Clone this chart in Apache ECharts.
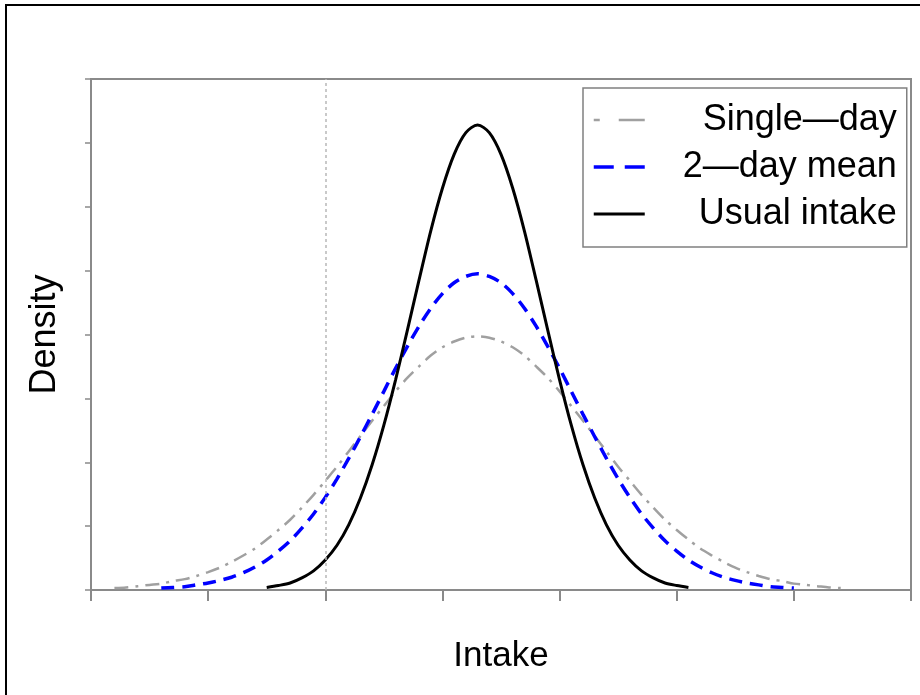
<!DOCTYPE html>
<html>
<head>
<meta charset="utf-8">
<script src="https://cdn.jsdelivr.net/npm/echarts@6/dist/echarts.min.js"></script>
<style>html,body{margin:0;padding:0;background:#fff}#c{width:920px;height:695px}</style>
</head>
<body>
<div id="c"></div>
<script>
const seriesNames = ['Single\u2014day', '2\u2014day mean', 'Usual intake'];
const cutoffIntake = 2.0;
const intake = [0.2,0.3,0.4,0.5,0.6,0.7,0.8,0.9,1.0,1.1,1.2,1.3,1.4,1.5,1.6,1.7,1.8,1.9,2.0,2.1,2.2,2.3,2.4,2.5,2.6,2.7,2.8,2.9,3.0,3.1,3.2,3.3,3.4,3.5,3.6,3.7,3.8,3.9,4.0,4.1,4.2,4.3,4.4,4.5,4.6,4.7,4.8,4.9,5.0,5.1,5.2,5.3,5.4,5.5,5.6,5.7,5.8,5.9,6.0,6.1,6.2,6.3,6.4];
const singleDay = [0.03,0.04,0.06,0.08,0.10,0.14,0.17,0.22,0.28,0.35,0.44,0.54,0.65,0.79,0.94,1.10,1.29,1.49,1.71,1.93,2.17,2.41,2.65,2.88,3.11,3.32,3.50,3.67,3.80,3.89,3.95,3.97,3.95,3.89,3.80,3.67,3.50,3.32,3.11,2.88,2.65,2.41,2.17,1.93,1.71,1.49,1.29,1.10,0.94,0.79,0.65,0.54,0.44,0.35,0.28,0.22,0.17,0.14,0.10,0.08,0.06,0.04,0.03];
const twoDayMean = [null,null,null,null,0.03,0.04,0.05,0.08,0.11,0.15,0.20,0.27,0.36,0.47,0.61,0.77,0.97,1.19,1.45,1.74,2.06,2.40,2.75,3.11,3.47,3.81,4.13,4.41,4.64,4.81,4.91,4.95,4.91,4.81,4.64,4.41,4.13,3.81,3.47,3.11,2.75,2.40,2.06,1.74,1.45,1.19,0.97,0.77,0.61,0.47,0.36,0.27,0.20,0.15,0.11,0.08,0.05,0.04,0.03,null,null,null,null];
const usualIntake = [null,null,null,null,null,null,null,null,null,null,null,null,null,0.04,0.07,0.11,0.19,0.30,0.47,0.70,1.02,1.44,1.96,2.58,3.29,4.06,4.85,5.62,6.29,6.82,7.16,7.28,7.16,6.82,6.29,5.62,4.85,4.06,3.29,2.58,1.96,1.44,1.02,0.70,0.47,0.30,0.19,0.11,0.07,0.04,null,null,null,null,null,null,null,null,null,null,null,null,null];

const FONT = 'Liberation Sans, Arial, sans-serif';
const axisGrey = '#8a8a8a';
const pair = arr => intake.map((x, i) => [x, arr[i]]);

const chart = echarts.init(document.getElementById('c'), null, {renderer: 'canvas'});
chart.setOption({
  animation: false,
  backgroundColor: '#fff',
  graphic: [{
    type: 'rect', silent: true, z: 100,
    shape: {x: 6, y: 5, width: 1200, height: 1200},
    style: {fill: 'none', stroke: '#000', lineWidth: 2}
  }],
  grid: {left: 91, right: 9, top: 79, bottom: 105, show: true, borderColor: axisGrey, borderWidth: 2, backgroundColor: 'transparent'},
  xAxis: {
    type: 'value', min: 0, max: 7, interval: 1,
    name: 'Intake', nameLocation: 'middle', nameGap: 49,
    nameTextStyle: {fontFamily: FONT, fontSize: 35, color: '#000'},
    axisLine: {show: true, lineStyle: {color: axisGrey, width: 2}},
    axisTick: {show: true, length: 11, lineStyle: {color: axisGrey, width: 2}},
    axisLabel: {show: false},
    splitLine: {show: false}
  },
  yAxis: {
    type: 'value', min: 0, max: 8, interval: 1,
    name: 'Density', nameLocation: 'middle', nameGap: 28,
    nameTextStyle: {fontFamily: FONT, fontSize: 36, color: '#000'},
    axisLine: {show: true, lineStyle: {color: axisGrey, width: 2}},
    axisTick: {show: true, length: 6, lineStyle: {color: axisGrey, width: 1.5}},
    axisLabel: {show: false},
    splitLine: {show: false}
  },
  legend: {
    orient: 'vertical', left: 583, top: 88,
    padding: [14, 10, 15, 9],
    itemWidth: 51, itemHeight: 14, itemGap: 11,
    borderColor: '#808080', borderWidth: 1.5,
    selectedMode: false,
    itemStyle: {opacity: 0},
    formatter: '{r|{name}}',
    textStyle: {
      fontFamily: FONT, fontSize: 36, color: '#000',
      rich: {r: {fontFamily: FONT, fontSize: 36, color: '#000', width: 247, align: 'right'}}
    },
    data: [
      {name: seriesNames[0], lineStyle: {type: [6, 19, 26, 10], width: 2.5}},
      {name: seriesNames[1], lineStyle: {type: [20, 11], width: 3.5}},
      {name: seriesNames[2], lineStyle: {width: 3}}
    ]
  },
  series: [
    {
      name: seriesNames[0], type: 'line', data: pair(singleDay), smooth: 0.3,
      symbol: 'none', color: '#a0a0a0',
      lineStyle: {color: '#a0a0a0', width: 2.5, type: [14, 7, 3, 7]},
      markLine: {
        silent: true, symbol: 'none', label: {show: false},
        lineStyle: {color: '#b8b8b8', width: 1.5, type: [3, 3]},
        data: [{xAxis: cutoffIntake}]
      }
    },
    {
      name: seriesNames[1], type: 'line', data: pair(twoDayMean), smooth: 0.3,
      symbol: 'none', color: '#0000ff',
      lineStyle: {color: '#0000ff', width: 3.5, type: [13, 8]}
    },
    {
      name: seriesNames[2], type: 'line', data: pair(usualIntake), smooth: 0.3,
      symbol: 'none', color: '#000',
      lineStyle: {color: '#000', width: 3}
    }
  ]
});
</script>
</body>
</html>
